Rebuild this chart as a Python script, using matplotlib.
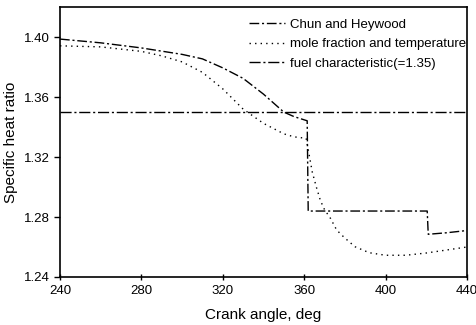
import numpy as np
import matplotlib.pyplot as plt

plt.rcParams['font.family'] = ['Liberation Sans', 'DejaVu Sans']

# Chun and Heywood
ch_x = [240, 260, 280, 300, 310, 320, 330, 340, 350, 355, 361.5, 362, 390, 420.5, 421, 430, 440]
ch_y = [1.3987, 1.3962, 1.3928, 1.3885, 1.3855, 1.3795, 1.3725, 1.3620, 1.3500, 1.3470, 1.3442,
        1.2840, 1.2840, 1.2840, 1.2685, 1.2695, 1.2710]

# mole fraction and temperature
mf_x = [240, 260, 280, 290, 300, 310, 320, 330, 340, 350, 355, 361, 362, 364, 366, 368, 370,
        373, 376, 380, 385, 392, 400, 410, 420, 430, 440]
mf_y = [1.3942, 1.3935, 1.3905, 1.3875, 1.3835, 1.3765, 1.3655, 1.3520, 1.3425, 1.3355, 1.3335,
        1.3325, 1.3250, 1.3100, 1.3000, 1.2910, 1.2850, 1.2790, 1.2713, 1.2660, 1.2602, 1.2562,
        1.2545, 1.2545, 1.2560, 1.2580, 1.2600]

# fuel characteristic
fuel_x = [240, 440]
fuel_y = [1.35, 1.35]

fig = plt.figure(figsize=(4.77, 3.25), dpi=100)
ax = fig.add_axes([0.1258, 0.1477, 0.853, 0.8303])

ax.plot(ch_x, ch_y, color='black', lw=1.0, ls=(0, (7, 2, 1.5, 2)), label='Chun and Heywood')
ax.plot(mf_x, mf_y, color='black', lw=1.0, ls=(0, (1, 3)), label='mole fraction and temperature')
ax.plot(fuel_x, fuel_y, color='black', lw=1.0, ls=(0, (8, 2, 1.5, 2)), label='fuel characteristic(=1.35)')

ax.set_xlim(240, 440)
ax.set_ylim(1.24, 1.42)
ax.set_xticks([240, 280, 320, 360, 400, 440])
ax.set_yticks([1.24, 1.28, 1.32, 1.36, 1.40])
ax.set_yticklabels(['1.24', '1.28', '1.32', '1.36', '1.40'])
ax.tick_params(axis='both', labelsize=9.5, length=4, width=1)
ax.tick_params(axis='x', direction='inout')
ax.tick_params(axis='y', direction='out')
for s in ax.spines.values():
    s.set_linewidth(1.2)

ax.set_xlabel('Crank angle, deg', fontsize=11, labelpad=8)
ax.set_ylabel('Specific heat ratio', fontsize=11)

ax.legend(loc='upper right', bbox_to_anchor=(1.005, 0.967), frameon=False, fontsize=9.5,
          handlelength=2.7, handletextpad=0.4, labelspacing=0.55, borderaxespad=0.0, borderpad=0.2)

fig.savefig('out.png', dpi=100)
